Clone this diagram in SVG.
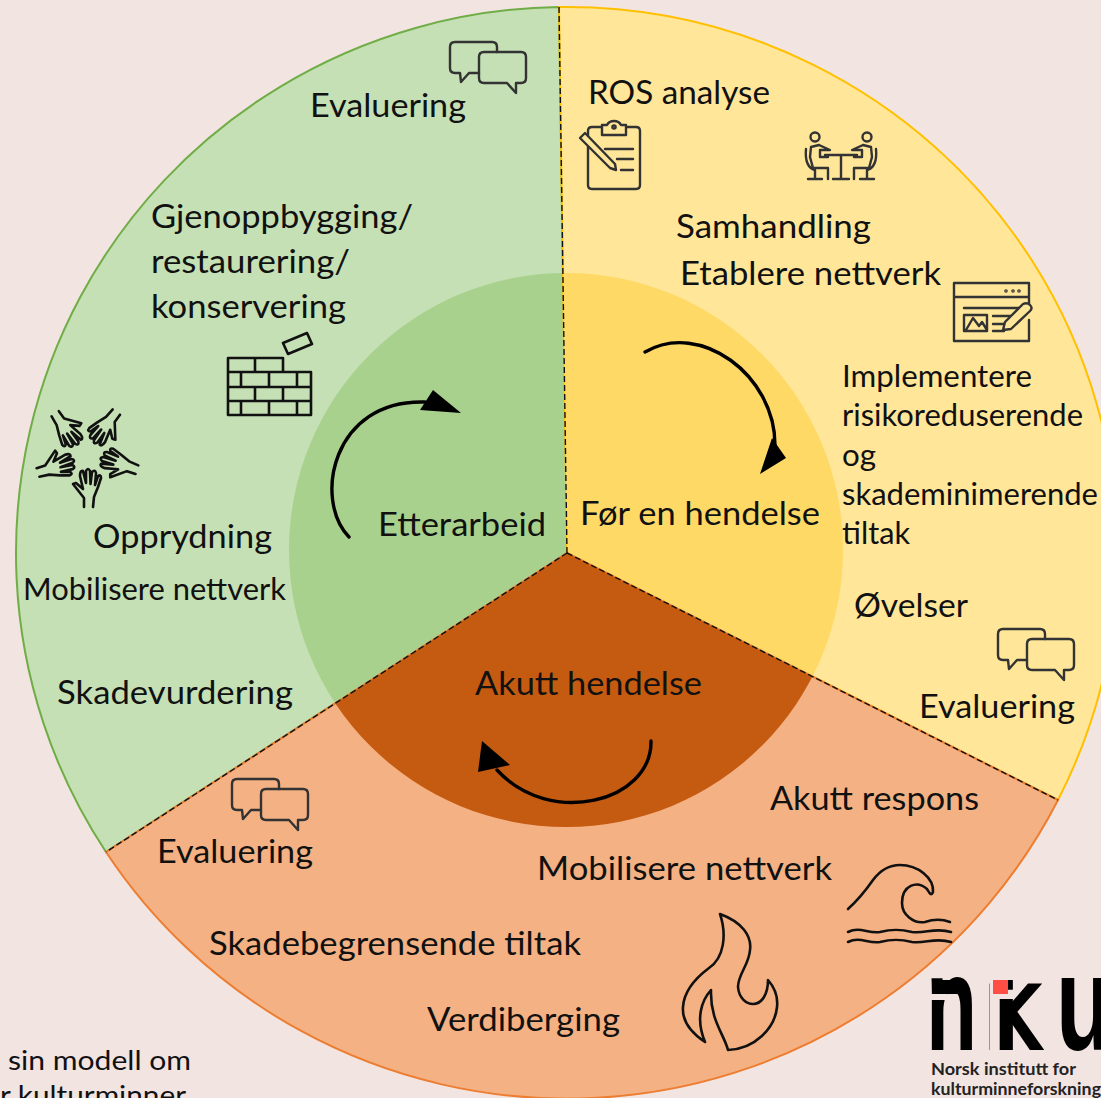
<svg xmlns="http://www.w3.org/2000/svg" xmlns:xlink="http://www.w3.org/1999/xlink" width="1101" height="1098" viewBox="0 0 1101 1098">
<style>
text{font-family:"Lato","Open Sans","Liberation Sans",sans-serif;fill:#111;font-size:33px}
.s{font-size:30px}
.c{font-size:27px}
.logo{font-family:"Liberation Sans",sans-serif;font-weight:700;fill:#000}
.lt{font-family:"Lato","Liberation Sans",sans-serif;font-weight:700;font-size:17px;fill:#222}
.ic{fill:none;stroke:#333;stroke-width:2.4;stroke-linejoin:round;stroke-linecap:round}
.ik{fill:none;stroke:#111;stroke-width:2.6;stroke-linejoin:round;stroke-linecap:round}
.dash{fill:none;stroke:#111;stroke-width:1.4;stroke-dasharray:6 3}
.arc{fill:none;stroke:#000;stroke-width:3.4;stroke-linecap:round}
</style>
<defs>
<clipPath id="cg"><path d="M567 553L106 852L-10 852V-10H559Z"/></clipPath>
<clipPath id="cy"><path d="M567 553L559 -10H1110V805L1058 800Z"/></clipPath>
<clipPath id="co"><path d="M567 553L1058 800L1110 826V1110H-10V923L106 852Z"/></clipPath>
<g id="chat" class="ic"><path d="M497 52V47Q497 42 492 42H455Q450 42 450 47V68Q450 73 455 73H460L461 82L469 73H479"/><path d="M484 52H521Q526 52 526 57V78Q526 83 521 83H516L516 93L507 83H484Q479 83 479 78V57Q479 52 484 52Z"/></g>
<path id="hand" class="ik" d="M84 507V498L73 484L76 483L83 489L80 476Q80 470 83 471L86 483L86 471Q88 467 90 471L90.500 484L92 472Q95 469 96 473L95 485L98 476Q101 474 101 478L98 487L94 497L93 507"/>
<g id="sitter" class="ic"><circle cx="815" cy="137" r="4.500"/><path d="M806 149C805 160 808 168 815 170V179M808 179H822M819 145L811 147L810 157L813 168H828V179M819 145L830 150H820V157H828"/></g>
</defs>
<rect width="1101" height="1098" fill="#f2e4e1"/>
<g id="sector-green">
<path d="M567 553L106 852A551 546 0 0 1 559 7Z" fill="#c5e0b4" stroke="#70ad47" stroke-width="2"/>
<circle cx="566" cy="550" r="277" fill="#a9d18e" clip-path="url(#cg)"/>
</g>
<g id="sector-yellow">
<path d="M567 553L559 7A551 546 0 0 1 1058 800Z" fill="#ffe699" stroke="#ffc000" stroke-width="2"/>
<circle cx="566" cy="550" r="277" fill="#ffd966" clip-path="url(#cy)"/>
</g>
<g id="sector-orange">
<path d="M567 553L1058 800A551 546 0 0 1 106 852Z" fill="#f4b183" stroke="#ed7d31" stroke-width="2"/>
<circle cx="566" cy="550" r="277" fill="#c55a11" clip-path="url(#co)"/>
</g>
<g id="connectors">
<path class="dash" d="M559 7L567 553M567 553L106 852M567 553L1058 800"/>
<path class="arc" d="M645 352C700 320 775 375 775 445"/>
<path d="M760 474L772 438L786 458Z" fill="#000"/>
<path class="arc" d="M349 537C313 500 332 399 425 402"/>
<path d="M461 413L433 390L420 410Z" fill="#000"/>
<path class="arc" d="M651 741C652 802 550 828 497 770"/>
<path d="M482 741L478 772L510 765Z" fill="#000"/>
</g>
<g id="node-etterarbeid">
<text x="378" y="536" textLength="168" lengthAdjust="spacingAndGlyphs">Etterarbeid</text>
<text x="310" y="117" textLength="156" lengthAdjust="spacingAndGlyphs">Evaluering</text>
<use href="#chat" xlink:href="#chat"/>
<text x="151" y="228" textLength="262" lengthAdjust="spacingAndGlyphs">Gjenoppbygging/</text>
<text x="151" y="273" textLength="199" lengthAdjust="spacingAndGlyphs">restaurering/</text>
<text x="151" y="318" textLength="195" lengthAdjust="spacingAndGlyphs">konservering</text>
<g class="ik"><path d="M228 415V358H283V372H311V415ZM228 372H283M228 387H311M228 401H311M255 358V372M241 372V387M269 372V387M297 372V387M255 387V401M283 387V401M241 401V415M269 401V415M297 401V415M283 343L307 333L312 344L288 354Z"/></g>
<g id="hands"><use href="#hand" xlink:href="#hand"/><use href="#hand" xlink:href="#hand" transform="rotate(72 87 455)"/><use href="#hand" xlink:href="#hand" transform="rotate(144 87 455)"/><use href="#hand" xlink:href="#hand" transform="rotate(216 87 455)"/><use href="#hand" xlink:href="#hand" transform="rotate(288 87 455)"/></g>
<text x="93" y="548" textLength="179" lengthAdjust="spacingAndGlyphs">Opprydning</text>
<text x="23" y="600" class="s" textLength="263" lengthAdjust="spacingAndGlyphs">Mobilisere nettverk</text>
<text x="57" y="704" textLength="236" lengthAdjust="spacingAndGlyphs">Skadevurdering</text>
</g>
<g id="node-for">
<text x="580" y="525" textLength="240" lengthAdjust="spacingAndGlyphs">Før en hendelse</text>
<text x="588" y="104" textLength="182" lengthAdjust="spacingAndGlyphs">ROS analyse</text>
<g class="ic"><path d="M602 127H592Q588 127 588 131V185Q588 189 592 189H636Q640 189 640 185V131Q640 127 636 127H626M602 135V125H607Q609 121 614 121Q619 121 621 125H626V135ZM605 149H633M617 159H633M621 170H633"/><path d="M580 138L585 133L615 164L616 170L610 168Z" fill="#ffe699"/><circle cx="614" cy="127" r="1.600"/></g>
<use href="#sitter" xlink:href="#sitter"/>
<use href="#sitter" xlink:href="#sitter" transform="translate(1682 0) scale(-1 1)"/>
<path class="ic" d="M825 155H857M841 155V179M833 179H849"/>
<text x="676" y="238" textLength="195" lengthAdjust="spacingAndGlyphs">Samhandling</text>
<text x="680" y="285" textLength="261" lengthAdjust="spacingAndGlyphs">Etablere nettverk</text>
<g class="ic"><path d="M1029 305V283H954V341H1029V320M954 297H1029M964 308H1020M964 315H987V331H964ZM966 330L973 318L979 326L982 322L987 330M993 316H1013M993 324H1006M993 331H1004"/><path d="M1003 330L1005 322L1023 304Q1027 302 1030 305Q1033 308 1030 311L1011 329Z" fill="#ffe699"/><circle cx="1006" cy="291" r=".6"/><circle cx="1013" cy="291" r=".6"/><circle cx="1019" cy="291" r=".6"/></g>
<text x="842" y="387" class="s" textLength="190" lengthAdjust="spacingAndGlyphs">Implementere</text>
<text x="842" y="426" class="s" textLength="241" lengthAdjust="spacingAndGlyphs">risikoreduserende</text>
<text x="842" y="466" class="s" textLength="34" lengthAdjust="spacingAndGlyphs">og</text>
<text x="842" y="505" class="s" textLength="256" lengthAdjust="spacingAndGlyphs">skademinimerende</text>
<text x="842" y="544" class="s" textLength="68" lengthAdjust="spacingAndGlyphs">tiltak</text>
<text x="854" y="617" textLength="114" lengthAdjust="spacingAndGlyphs">Øvelser</text>
<use href="#chat" xlink:href="#chat" transform="translate(548 587)"/>
<text x="919" y="718" textLength="156" lengthAdjust="spacingAndGlyphs">Evaluering</text>
</g>
<g id="node-akutt">
<text x="475" y="695" textLength="227" lengthAdjust="spacingAndGlyphs">Akutt hendelse</text>
<text x="770" y="810" textLength="209" lengthAdjust="spacingAndGlyphs">Akutt respons</text>
<text x="537" y="880" textLength="295" lengthAdjust="spacingAndGlyphs">Mobilisere nettverk</text>
<use href="#chat" xlink:href="#chat" transform="translate(-218 737)"/>
<text x="157" y="863" textLength="156" lengthAdjust="spacingAndGlyphs">Evaluering</text>
<text x="209" y="955" textLength="372" lengthAdjust="spacingAndGlyphs">Skadebegrensende tiltak</text>
<text x="427" y="1031" textLength="193" lengthAdjust="spacingAndGlyphs">Verdiberging</text>
<path class="ik" d="M720 914C742 922 752 936 750 950C749 965 738 974 738 987C739 998 746 1004 753 1004C762 1004 768 994 768 980C775 988 778 998 777 1007C775 1028 755 1049 728 1050C724 1034 710 1020 711 990C702 1000 695 1018 705 1042C690 1032 682 1020 683 1007C684 990 697 977 709 968C724 958 727 935 720 914Z"/>
<path class="ik" d="M848 909C858 900 866 890 873 880C882 868 892 865 900 865C918 865 934 878 933 892C931 897 929 892 927 889C917 880 902 885 902 903C902 915 914 924 925 922C934 919 942 919 950 922M848 932C860 926 868 934 880 932C892 929 900 929 912 932C925 934 935 927 951 932M848 942C860 936 868 944 880 942C892 939 900 939 912 942C925 944 935 937 951 942"/>
</g>
<g id="caption">
<text x="8" y="1070" class="c" textLength="183" lengthAdjust="spacingAndGlyphs">sin modell om</text>
<text x="0" y="1105" class="c" textLength="186" lengthAdjust="spacingAndGlyphs">r kulturminner</text>
</g>
<g id="logo">
<text class="logo" transform="translate(926 1050) scale(.62 1)" style="font-size:135px">n</text>
<path d="M932 980H962V994H932Z" fill="#000"/>
<rect x="930" y="994" width="17" height="6" fill="#f2e4e1"/>
<text class="logo" transform="translate(984 1050) scale(.88 1)" style="font-size:96px">K</text>
<rect x="990" y="976" width="21" height="78" fill="#f2e4e1"/>
<text class="logo" x="993" y="1050" style="font-size:96px">i</text>
<rect x="993" y="980" width="15" height="14" fill="#ff4f44"/>
<text class="logo" transform="translate(1056 1050) scale(.68 1)" style="font-size:135px">u</text>
<text x="931" y="1075" class="lt" textLength="145" lengthAdjust="spacingAndGlyphs">Norsk institutt for</text>
<text x="931" y="1095" class="lt" textLength="170" lengthAdjust="spacingAndGlyphs">kulturminneforskning</text>
</g>
</svg>
